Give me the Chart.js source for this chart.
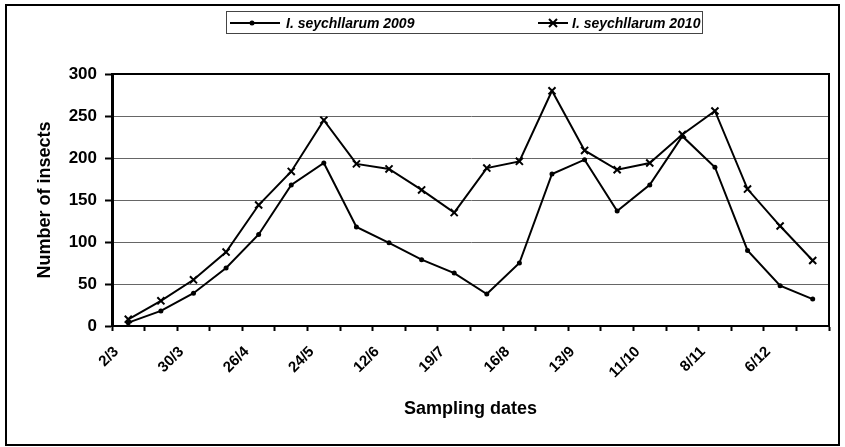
<!DOCTYPE html>
<html>
<head>
<meta charset="utf-8">
<title>I. seychellarum sampling</title>
<script src="https://cdn.jsdelivr.net/npm/chart.js@4.4.0/dist/chart.umd.min.js"></script>
<style>
  html, body { margin: 0; padding: 0; background: #fff; }
  canvas { display: block; }
</style>
</head>
<body>
<canvas id="myChart" width="845" height="447"></canvas>
<script>
// sampling dates (only every second one is labelled on the axis)
const dates = ['2/3', '', '30/3', '', '26/4', '', '24/5', '', '12/6', '', '19/7', '',
  '16/8', '', '13/9', '', '11/10', '', '8/11', '', '6/12', ''];
const counts2009 = [4, 18, 39, 69, 109, 168, 194, 118, 99, 79, 63, 38, 75, 181, 198, 137, 168, 226, 189, 90, 48, 32];
const counts2010 = [8, 30, 55, 88, 144, 184, 245, 193, 187, 162, 135, 188, 196, 280, 209, 186, 194, 228, 256, 163, 119, 78];
const seriesNames = ['I. seychllarum 2009', 'I. seychllarum 2010'];
const yTicks = [0, 50, 100, 150, 200, 250, 300];

const FONT = "'Liberation Sans', Arial, sans-serif";

// frame around the whole picture + border of the plot area
const framePlugin = {
  id: 'frame',
  beforeDraw(chart) {
    const c = chart.ctx;
    c.save();
    c.fillStyle = '#fff';
    c.fillRect(0, 0, chart.width, chart.height);
    c.strokeStyle = '#000';
    c.lineWidth = 2;
    c.strokeRect(6, 5, 833, 440);
    c.restore();
  },
  beforeDatasetsDraw(chart) {
    const a = chart.chartArea;
    const c = chart.ctx;
    c.save();
    c.strokeStyle = '#000';
    c.lineWidth = 2;
    c.beginPath();
    c.moveTo(a.left, a.top);
    c.lineTo(a.right, a.top);
    c.lineTo(a.right, a.bottom);
    c.stroke();
    c.restore();
  }
};

// boxed legend with line samples like the original
const legendPlugin = {
  id: 'boxLegend',
  afterDraw(chart) {
    const c = chart.ctx;
    const y = 23;
    c.save();
    c.strokeStyle = '#444';
    c.lineWidth = 1;
    c.strokeRect(226.5, 11.5, 476, 22);
    c.strokeStyle = '#000';
    c.fillStyle = '#000';
    c.lineWidth = 2;
    c.font = 'italic bold 14px ' + FONT;
    c.textBaseline = 'middle';

    // 2009: line with dot
    c.beginPath();
    c.moveTo(230, y);
    c.lineTo(280, y);
    c.stroke();
    c.beginPath();
    c.arc(252, y, 2.5, 0, Math.PI * 2);
    c.fill();
    c.fillText(seriesNames[0], 286, y + 1);

    // 2010: line with x
    c.beginPath();
    c.moveTo(538, y);
    c.lineTo(568, y);
    c.stroke();
    c.beginPath();
    c.moveTo(549, y - 4);
    c.lineTo(557, y + 4);
    c.moveTo(557, y - 4);
    c.lineTo(549, y + 4);
    c.stroke();
    c.fillText(seriesNames[1], 572, y + 1);
    c.restore();
  }
};

const ctx = document.getElementById('myChart');

new Chart(ctx, {
  type: 'line',
  data: {
    labels: dates,
    datasets: [
      {
        label: seriesNames[0],
        data: counts2009,
        borderColor: '#000',
        backgroundColor: '#000',
        borderWidth: 2,
        pointStyle: 'circle',
        pointRadius: 2.5,
        pointBorderWidth: 0,
        tension: 0,
      },
      {
        label: seriesNames[1],
        data: counts2010,
        borderColor: '#000',
        backgroundColor: '#000',
        borderWidth: 2,
        pointStyle: 'crossRot',
        pointRadius: 5,
        pointBorderWidth: 2,
        tension: 0,
      },
    ],
  },
  options: {
    responsive: false,
    animation: false,
    devicePixelRatio: 1,
    layout: { padding: { top: 74, right: 16, bottom: 23, left: 30 } },
    plugins: {
      legend: { display: false },
      tooltip: { enabled: false },
    },
    scales: {
      x: {
        type: 'category',
        offset: true,
        afterFit: scale => { scale.height = 98; },
        grid: {
          offset: true,
          drawOnChartArea: false,
          tickLength: 5,
          tickColor: '#000',
          tickWidth: 2,
        },
        border: { color: '#000', width: 2 },
        ticks: {
          autoSkip: false,
          minRotation: 45,
          maxRotation: 45,
          padding: 12,
          labelOffset: -12,
          color: '#000',
          font: { family: FONT, size: 15, weight: 'bold' },
        },
        title: {
          display: true,
          text: 'Sampling dates',
          color: '#000',
          font: { family: FONT, size: 18, weight: 'bold' },
        },
      },
      y: {
        min: yTicks[0],
        max: yTicks[yTicks.length - 1],
        afterFit: scale => { scale.width = 82; },
        grid: {
          color: '#666',
          lineWidth: 1,
          tickLength: 7,
          tickColor: '#000',
          tickWidth: 2,
        },
        border: { color: '#000', width: 3 },
        ticks: {
          stepSize: 50,
          padding: 8,
          color: '#000',
          font: { family: FONT, size: 17, weight: 'bold' },
        },
        title: {
          display: true,
          text: 'Number of insects',
          color: '#000',
          font: { family: FONT, size: 18, weight: 'bold' },
        },
      },
    },
  },
  plugins: [framePlugin, legendPlugin],
});
</script>
</body>
</html>
